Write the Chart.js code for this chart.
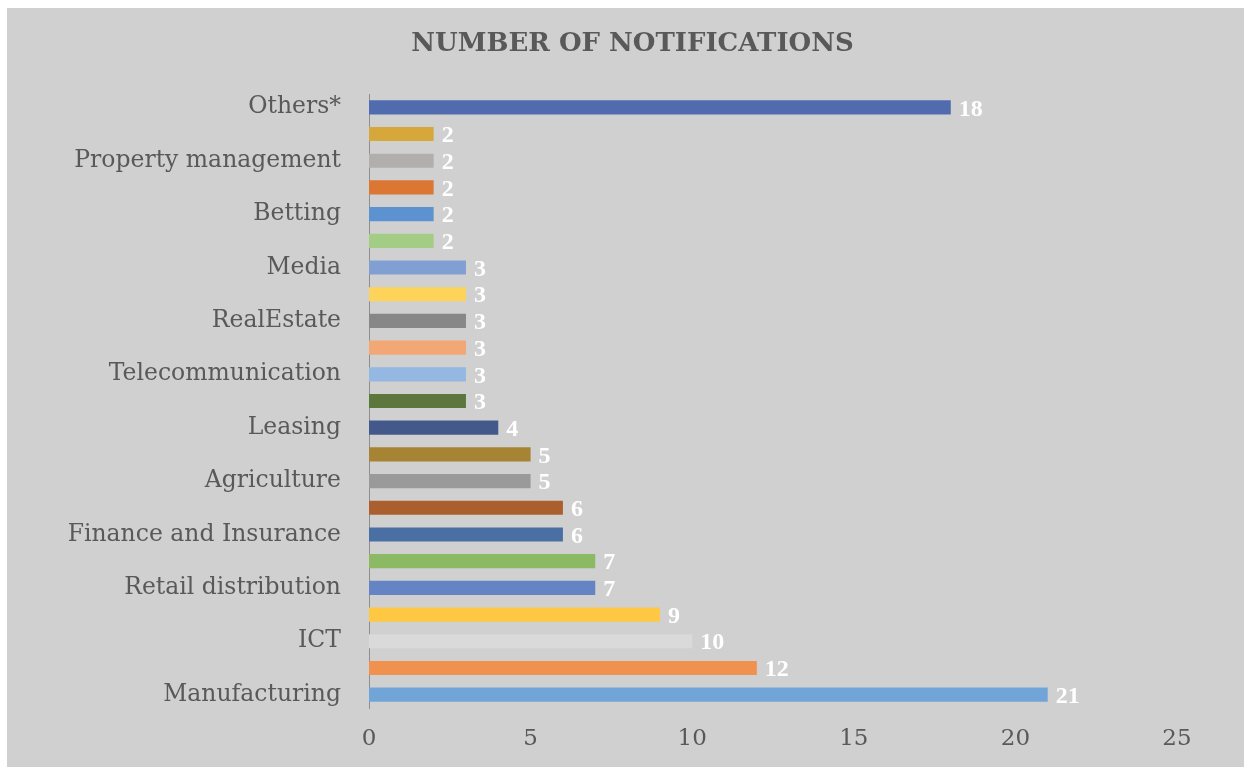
<!DOCTYPE html>
<html>
<head>
<meta charset="utf-8">
<script src="https://cdn.jsdelivr.net/npm/chart.js@4.4.0/dist/chart.umd.min.js"></script>
<style>
    html, body { margin: 0; padding: 0; background: #ffffff; overflow: hidden; width: 1244px; height: 767px; }
    #panel {
        position: absolute;
        left: 7px;
        top: 8px;
        right: 0;
        bottom: 0;
        background: #d0d0d0;
    }
</style>
</head>
<body>
<div id="panel"><canvas id="chart"></canvas></div>
<script>
// top to bottom, as in the picture
const sectors = [
    'Others*', '', 'Property management', '', 'Betting', '', 'Media', '',
    'RealEstate', '', 'Telecommunication', '', 'Leasing', '', 'Agriculture', '',
    'Finance and Insurance', '', 'Retail distribution', '', 'ICT', '', 'Manufacturing'
];
const notifications = [18, 2, 2, 2, 2, 2, 3, 3, 3, 3, 3, 3, 4, 5, 5, 6, 6, 7, 7, 9, 10, 12, 21];
const barColors = [
    '#506cae', '#d6a83b', '#b0afad', '#db7633', '#5b92cf', '#a3cc85', '#819fd3', '#fdd35a',
    '#878787', '#f2a774', '#95b8e2', '#5b773e', '#43598b', '#a68433', '#9a9a9a', '#ab5f2e',
    '#4a70a3', '#8cb963', '#6584c4', '#fec843', '#dadada', '#f0914f', '#71a5d8'
];
const xTicks = [0, 5, 10, 15, 20, 25];
const chartTitle = 'NUMBER OF NOTIFICATIONS';

const textColor = '#595959';
const serif = "'DejaVu Serif', serif";

// value labels at the end of each bar, plus the title centred on the whole panel
const barValues = {
    id: 'barValues',
    afterDatasetsDraw(chart) {
        const ctx = chart.ctx;
        const meta = chart.getDatasetMeta(0);
        ctx.save();
        ctx.fillStyle = '#ffffff';
        ctx.font = "bold 24px 'Liberation Serif', serif";
        ctx.textAlign = 'left';
        ctx.textBaseline = 'middle';
        meta.data.forEach((bar, i) => {
            ctx.fillText(String(notifications[i]), bar.x + 8, bar.y + 2);
        });

        ctx.fillStyle = textColor;
        ctx.font = "bold 26px " + serif;
        ctx.textAlign = 'center';
        ctx.fillText(chartTitle, chart.width / 2 + 7, 36);
        ctx.restore();
    }
};

new Chart(document.getElementById('chart').getContext('2d'), {
    type: 'bar',
    data: {
        labels: sectors,
        datasets: [{
            data: notifications,
            backgroundColor: barColors,
            borderWidth: 0,
            barPercentage: 0.53,
            categoryPercentage: 1,
        }]
    },
    options: {
        indexAxis: 'y',
        responsive: true,
        maintainAspectRatio: false,
        animation: false,
        layout: { padding: { left: 0, right: 67, top: 86, bottom: 0 } },
        scales: {
            x: {
                min: 0,
                max: 25,
                afterBuildTicks: scale => { scale.ticks = xTicks.map(v => ({ value: v })); },
                afterFit: scale => { scale.height = 59; },
                grid: { display: false, drawTicks: false },
                border: { display: false },
                ticks: { color: textColor, font: { family: serif, size: 23 }, padding: 17 }
            },
            y: {
                afterFit: scale => { scale.width = 362; },
                grid: { display: false, drawTicks: false },
                border: { display: true, color: '#8e8e8e', width: 1 },
                ticks: { color: textColor, font: { family: serif, size: 23.5 }, padding: 28, autoSkip: false }
            }
        },
        plugins: {
            legend: { display: false },
            tooltip: { enabled: false },
            title: { display: false }
        }
    },
    plugins: [barValues]
});
</script>
</body>
</html>
